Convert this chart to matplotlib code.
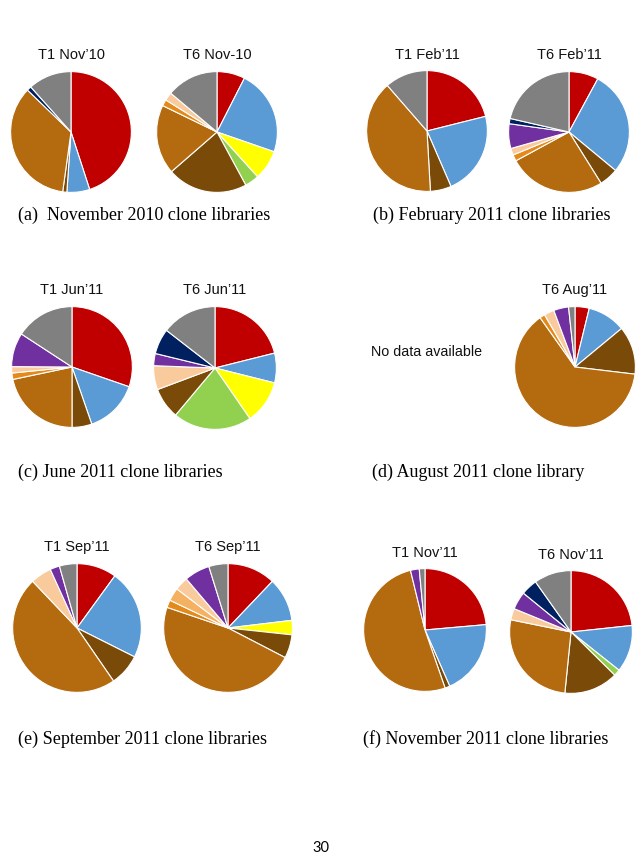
import matplotlib
matplotlib.use("Agg")
import matplotlib.pyplot as plt

W, H = 642, 865

# slice order (clockwise from 12 o'clock) and colours
groups = ["red", "blue", "yellow", "green", "darkbrown", "brown",
          "orange", "lightorange", "peach", "purple", "navy", "gray"]
colors = ["#C00000", "#5B9BD5", "#FFFF00", "#92D050", "#7A4A08", "#B46A0E",
          "#E48A1A", "#F4B162", "#F9CB9C", "#7030A0", "#002060", "#808080"]

# percentages per library, same order as groups
t1_nov10 = [45.0, 6.1, 0, 0, 1.1, 35.0, 0, 0, 0, 0, 1.2, 11.6]
t6_nov10 = [7.5, 22.8, 8.0, 3.8, 21.5, 18.6, 1.7, 0, 2.2, 0, 0, 13.9]
t1_feb11 = [21.1, 22.4, 0, 0, 5.6, 39.5, 0, 0, 0, 0, 0, 11.4]
t6_feb11 = [7.9, 28.1, 0, 0, 5.1, 26.0, 1.7, 0, 1.8, 6.6, 1.4, 21.4]
t1_jun11 = [30.3, 14.4, 0, 0, 5.3, 21.7, 1.7, 0, 1.7, 9.1, 0, 15.8]
t6_jun11 = [21.1, 7.8, 11.5, 20.7, 8.2, 0, 0, 0, 6.3, 3.2, 6.7, 14.5]
t6_aug11 = [3.8, 10.2, 0, 0, 12.9, 63.3, 1.4, 0, 2.7, 4.0, 0, 1.7]
t1_sep11 = [10.0, 22.4, 0, 0, 8.0, 47.5, 0, 0, 5.3, 2.4, 0, 4.4]
t6_sep11 = [12.1, 11.0, 3.6, 0, 5.9, 47.6, 1.9, 3.3, 3.4, 6.4, 0, 4.8]
t1_nov11 = [23.6, 19.8, 0, 0, 1.3, 51.5, 0, 0, 0, 2.3, 0, 1.5]
t6_nov11 = [23.3, 12.4, 0, 1.7, 14.2, 26.6, 0, 0, 3.0, 4.7, 4.3, 9.8]

# (title, values, centre x, centre y, radius, title y) in pixels
pies = [
    ("T1 Nov\u201910", t1_nov10, 71, 132, 61, 55),
    ("T6 Nov-10", t6_nov10, 217, 132, 61, 55),
    ("T1 Feb\u201911", t1_feb11, 427, 131, 61, 55),
    ("T6 Feb\u201911", t6_feb11, 569, 132, 61, 55),
    ("T1 Jun\u201911", t1_jun11, 72, 367, 61, 290),
    ("T6 Jun\u201911", t6_jun11, 215, 368, 62, 290),
    ("T6 Aug\u201911", t6_aug11, 575, 367, 61, 290),
    ("T1 Sep\u201911", t1_sep11, 77, 628, 65, 547),
    ("T6 Sep\u201911", t6_sep11, 228, 628, 65, 547),
    ("T1 Nov\u201911", t1_nov11, 425, 630, 62, 553),
    ("T6 Nov\u201911", t6_nov11, 571, 632, 62, 555),
]

captions = [
    ("(a)  November 2010 clone libraries", 18, 215),
    ("(b) February 2011 clone libraries", 373, 215),
    ("(c) June 2011 clone libraries", 18, 472),
    ("(d) August 2011 clone library", 372, 472),
    ("(e) September 2011 clone libraries", 18, 739),
    ("(f) November 2011 clone libraries", 363, 739),
]

fig = plt.figure(figsize=(W / 100, H / 100), dpi=100)

for title, vals, cx, cy, r, ty in pies:
    ax = fig.add_axes([(cx - r) / W, 1 - (cy + r) / H, 2 * r / W, 2 * r / H])
    v = [x for x in vals if x > 0]
    c = [col for x, col in zip(vals, colors) if x > 0]
    ax.pie(v, colors=c, startangle=90, counterclock=False, radius=1,
           wedgeprops=dict(edgecolor="white", linewidth=0.8))
    ax.set_xlim(-1.01, 1.01)
    ax.set_ylim(-1.01, 1.01)
    ax.axis("off")
    fig.text(cx / W, 1 - ty / H, title, ha="center", va="center",
             family="Liberation Sans", fontsize=10.5, color="#111111")

fig.text(427 / W, 1 - 352 / H, "No data available", ha="center", va="center",
         family="Liberation Sans", fontsize=10.3, color="#111111")

for text, x, y in captions:
    fig.text(x / W, 1 - y / H, text, ha="left", va="center",
             family="Liberation Serif", fontsize=13, color="black")

fig.text(321 / W, 1 - 848 / H, "30", ha="center", va="center",
         family="Lato", fontsize=10.5, color="black")

fig.savefig("out.png", dpi=100, facecolor="white")
